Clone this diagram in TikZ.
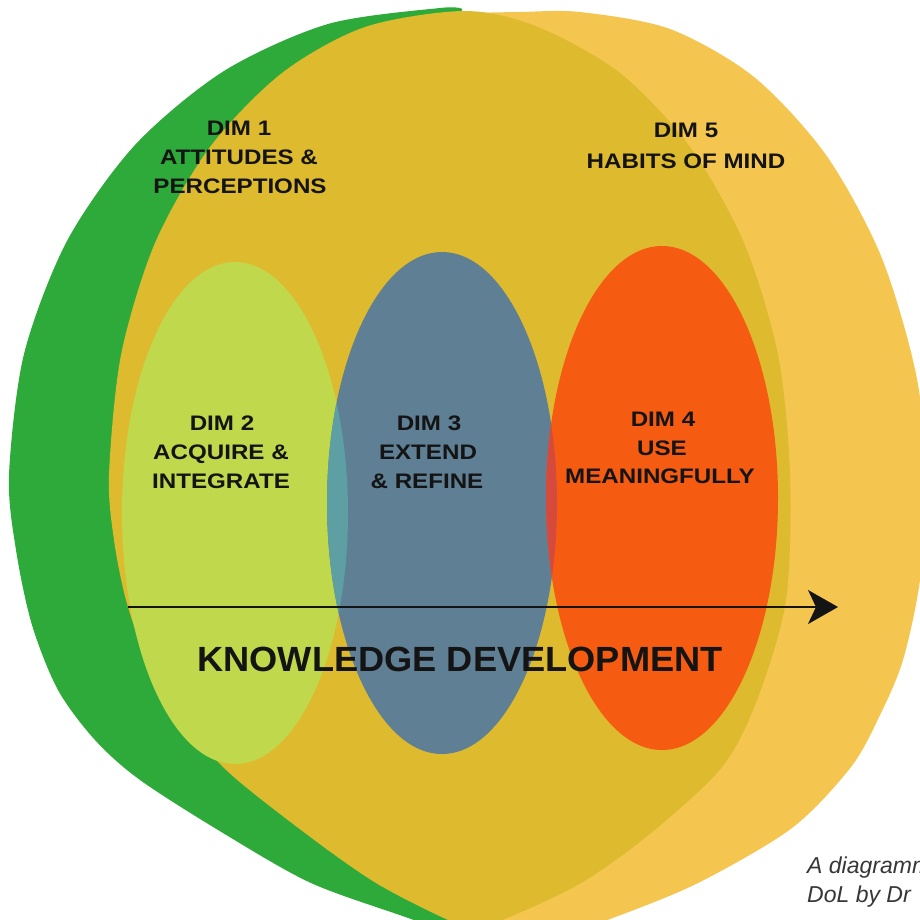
\documentclass[tikz,border=0pt]{standalone}
\usepackage{fontspec}
\setmainfont{Liberation Sans}
\newfontfamily\lblfont[FakeStretch=1.15]{Liberation Sans}
\newfontfamily\ttlfont[FakeStretch=1.035]{Liberation Sans}
\usetikzlibrary{arrows.meta}
\definecolor{dimone}{HTML}{2EAA3A}
\definecolor{dimmid}{HTML}{DEBA2E}
\definecolor{dimfive}{HTML}{F4C54F}
\definecolor{dimtwo}{HTML}{C0D84C}
\definecolor{dimthree}{HTML}{5F7F95}
\definecolor{dimfour}{HTML}{F55C12}
\definecolor{ovtt}{HTML}{5D9FA2}
\definecolor{ovtf}{HTML}{D64A3D}
\definecolor{inktext}{HTML}{141414}
\begin{document}
\begin{tikzpicture}[x=1pt,y=-1pt,
  lbl/.style={anchor=base,inner sep=0pt,text=inktext,font=\lblfont\bfseries\fontsize{21}{29}\selectfont},
  ttl/.style={anchor=base,inner sep=0pt,text=inktext,font=\ttlfont\bfseries\fontsize{35}{40}\selectfont},
  captext/.style={anchor=base west,inner sep=0pt,text=inktext!85,font=\itshape\fontsize{23}{29}\selectfont},
  flow/.style={draw=inktext,line width=1.5pt,-{Stealth[length=30pt,width=34pt,inset=8pt]}}]
\useasboundingbox (0,0) rectangle (920,919);
\fill[white] (0,0) rectangle (920,919);
% DIM 5 outer light orange
\fill[dimfive] plot[smooth] coordinates {(470,13) (520,12) (580,12) (670,29) (754,77) (826,155) (881,256) (916,374) (927,480) (920,580) (903,660) (880,715) (851,767) (792,828) (698,883) (610,919) (540,942)} -- (460,942) -- (460,500) -- cycle;
% DIM 1 green
\fill[dimone] plot[smooth] coordinates {(462,9) (440,8) (328,24) (224,71) (135,145) (67,241) (24,354) (9,475) (16,550) (32,625) (58,690) (95,740) (140,780) (223,833) (311,883) (411,919) (480,945)} -- (465,500) -- cycle;
% mustard overlap region
\fill[dimmid] plot[smooth cycle] coordinates {(465,11) (538,27) (620,73) (690,147) (744,243) (778,355) (790,475) (786,600) (757,700) (722,767) (651,833) (581,883) (505,919) (475,927) (446,919) (376,883) (305,833) (223,767) (170,700) (145,655) (126,600) (114,540) (109,475) (121,355) (155,243) (210,147) (282,73) (365,27)};
% inner ellipses
\fill[dimtwo] (235,513) ellipse [x radius=113, y radius=251];
\fill[dimthree] (442,503) ellipse [x radius=115, y radius=251];
\fill[dimfour] (662,498) ellipse [x radius=116, y radius=252];
\begin{scope}
  \clip (235,513) ellipse [x radius=113, y radius=251];
  \fill[ovtt] (442,503) ellipse [x radius=115, y radius=251];
\end{scope}
\begin{scope}
  \clip (442,503) ellipse [x radius=115, y radius=251];
  \fill[ovtf] (662,498) ellipse [x radius=116, y radius=252];
\end{scope}
% labels
\node[lbl] (d1a) at (239,135) {DIM 1};
\node[lbl] (d1b) at (239,164) {ATTITUDES \&};
\node[lbl] (d1c) at (240,193) {PERCEPTIONS};
\node[lbl] (d5a) at (686,137) {DIM 5};
\node[lbl] (d5b) at (686,168) {HABITS OF MIND};
\node[lbl] (d2a) at (222,430) {DIM 2};
\node[lbl] (d2b) at (221,459) {ACQUIRE \&};
\node[lbl] (d2c) at (221,488) {INTEGRATE};
\node[lbl] (d3a) at (429,430) {DIM 3};
\node[lbl] (d3b) at (428,459) {EXTEND};
\node[lbl] (d3c) at (427,488) {\& REFINE};
\node[lbl] (d4a) at (663,426) {DIM 4};
\node[lbl] (d4b) at (662,455) {USE};
\node[lbl] (d4c) at (660,483) {MEANINGFULLY};
% arrow
\coordinate (arrS) at (128,607);
\coordinate (arrE) at (838,607);
\draw[flow] (arrS) -- (arrE);
\node[ttl] (kd) at (460,671) {KNOWLEDGE DEVELOPMENT};
% caption
\node[captext] (capa) at (807,873) {A diagramm};
\node[captext] (capb) at (807,902) {DoL by Dr};
\end{tikzpicture}
\end{document}
